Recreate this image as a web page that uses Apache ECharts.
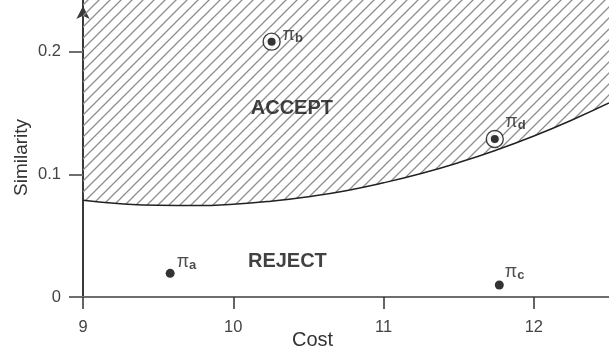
<!DOCTYPE html>
<html>
<head>
<meta charset="utf-8">
<script src="https://cdn.jsdelivr.net/npm/echarts@6/dist/echarts.min.js"></script>
<style>
html,body{margin:0;padding:0;background:#fff;}
#chart{width:609px;height:354px;}
</style>
</head>
<body>
<div id="chart"></div>
<script>
// Decision boundary
const boundaryCost = [9.0, 9.25, 9.5, 9.75, 10.0, 10.25, 10.5, 10.75, 11.0, 11.25, 11.5, 11.75, 12.0, 12.25, 12.5];
const boundarySim  = [0.0790, 0.0762, 0.0748, 0.0746, 0.0757, 0.0782, 0.0819, 0.0868, 0.0932, 0.1008, 0.1097, 0.1199, 0.1314, 0.1443, 0.1584];

// Points
const pointNames = ['a', 'b', 'c', 'd'];
const pointCost  = [9.58, 10.255, 11.77, 11.74];
const pointSim   = [0.0193, 0.2084, 0.0098, 0.129];
const pointCircled = [false, true, false, true];

// Region labels
const regionNames = ['ACCEPT', 'REJECT'];
const regionCost  = [10.39, 10.36];
const regionSim   = [0.154, 0.029];

// Axis ticks
const xTicks = [9, 10, 11, 12];
const yTicks = [0, 0.1, 0.2];

// styling only
const labelOffsets = {a: [2, -11], b: [7, -7], c: [1, -13], d: [6.5, -17]};

function hatch() {
  const s = 11;
  const c = document.createElement('canvas');
  c.width = s; c.height = s;
  const g = c.getContext('2d');
  g.strokeStyle = '#8e8e8e';
  g.lineWidth = 1.3;
  g.beginPath();
  g.moveTo(-1, s + 1); g.lineTo(s + 1, -1);
  g.moveTo(-1, 1); g.lineTo(1, -1);
  g.moveTo(s - 1, s + 1); g.lineTo(s + 1, s - 1);
  g.stroke();
  return c;
}

const chart = echarts.init(document.getElementById('chart'));
const font = 'Liberation Sans, Arial, Helvetica, sans-serif';

chart.setOption({
  animation: false,
  grid: {left: 83, right: 0, top: 0, bottom: 57},
  xAxis: {
    type: 'value', min: 9, max: 12.5, interval: 1,
    axisLine: {lineStyle: {color: '#6e6e6e', width: 2}},
    axisTick: {show: true, length: 12, lineStyle: {color: '#333', width: 1.5}},
    axisLabel: {margin: 22, fontSize: 16.5, color: '#444', fontFamily: font, showMaxLabel: false,
      formatter: v => xTicks.indexOf(v) >= 0 ? String(v) : ''},
    splitLine: {show: false}
  },
  yAxis: {
    type: 'value', min: 0, max: 0.2424, interval: 0.1,
    axisLine: {show: true, symbol: ['none', 'arrow'], symbolSize: [10, 13], symbolOffset: [0, -6],
      lineStyle: {color: '#3a3a3a', width: 2}},
    axisTick: {show: true, length: 14, lineStyle: {color: '#6e6e6e', width: 2}},
    axisLabel: {margin: 22, fontSize: 16.5, color: '#444', fontFamily: font, showMaxLabel: false,
      formatter: v => { const t = yTicks.find(k => Math.abs(k - v) < 1e-9); return t === undefined ? '' : String(t); }},
    splitLine: {show: false}
  },
  graphic: [
    {type: 'text', left: 292, top: 330, style: {text: 'Cost', font: '20px ' + font, fill: '#333'}},
    {type: 'text', x: 12, y: 196, rotation: Math.PI / 2, style: {text: 'Similarity', font: '19px ' + font, fill: '#333'}}
  ],
  series: [
    {
      type: 'line', smooth: true, symbol: 'none',
      data: boundaryCost.map((c, i) => [c, boundarySim[i]]),
      lineStyle: {color: '#222', width: 1.5},
      areaStyle: {origin: 'end', color: {image: hatch(), repeat: 'repeat'}, opacity: 1},
      z: 1
    },
    {
      type: 'scatter', symbol: 'circle', symbolSize: 17,
      data: pointCost.map((c, i) => [c, pointSim[i]]).filter((d, i) => pointCircled[i]),
      itemStyle: {color: '#fff', borderColor: '#111', borderWidth: 1.4},
      z: 3
    },
    {
      type: 'scatter', symbol: 'circle',
      symbolSize: (v, p) => pointCircled[p.dataIndex] ? 8 : 9,
      data: pointCost.map((c, i) => ({
        value: [c, pointSim[i]],
        name: pointNames[i],
        label: {offset: labelOffsets[pointNames[i]]}
      })),
      itemStyle: {color: '#000'},
      label: {
        show: true, position: 'right', distance: 0,
        formatter: p => '{p|π}{s|' + p.name + '}',
        rich: {
          p: {fontSize: 18, color: '#222', fontFamily: font},
          s: {fontSize: 13, fontWeight: 'bold', color: '#222', fontFamily: font, padding: [7, 0, 0, 0]}
        }
      },
      z: 4
    },
    {
      type: 'scatter', symbolSize: 0,
      data: regionCost.map((c, i) => ({value: [c, regionSim[i]], name: regionNames[i]})),
      label: {show: true, position: 'inside', formatter: p => p.name,
        fontSize: 20, fontWeight: 'bold', color: '#111', fontFamily: font},
      z: 5
    }
  ]
});
</script>
</body>
</html>
